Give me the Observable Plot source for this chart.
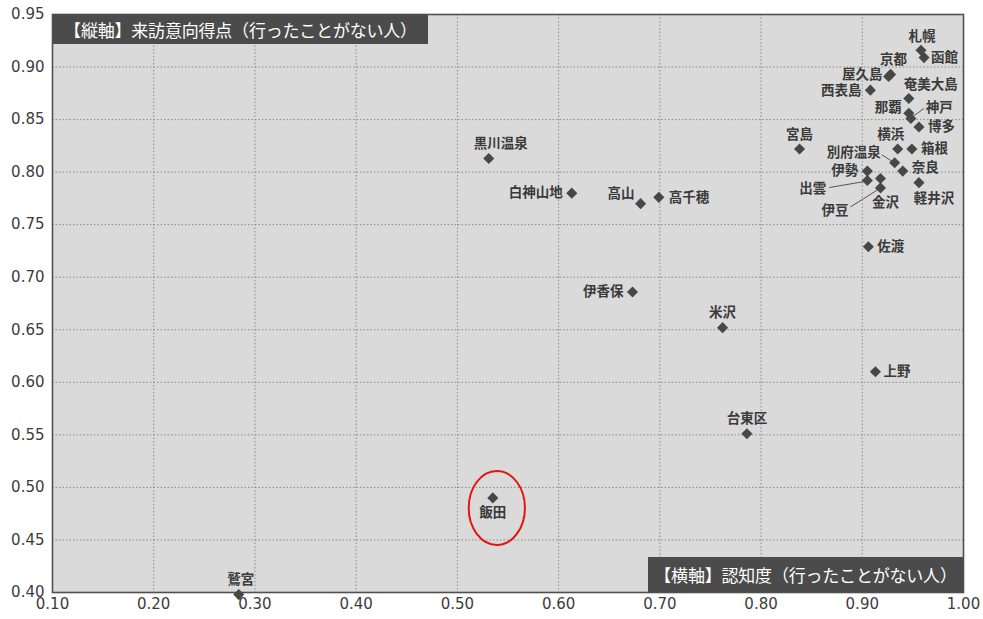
<!DOCTYPE html>
<html><head><meta charset="utf-8">
<script src="https://cdn.jsdelivr.net/npm/d3@7"></script>
<script src="https://cdn.jsdelivr.net/npm/@observablehq/plot@0.6"></script>
<style>
body{margin:0;background:#fff;}
#wrap{position:relative;width:983px;height:619px;overflow:hidden;}
.box{position:absolute;background:#4b4b4b;color:#fff;font-family:"Noto Sans CJK JP";font-size:17px;display:flex;align-items:center;justify-content:center;white-space:nowrap;letter-spacing:-0.2px;}
</style></head><body>
<div id="wrap"></div>
<script>
// ---- data ----
const places    = ["札幌","函館","京都","屋久島","西表島","奄美大島","那覇","神戸","博多","宮島","横浜","箱根","別府温泉","奈良","伊勢","出雲","金沢","伊豆","軽井沢","黒川温泉","白神山地","高山","高千穂","伊香保","米沢","上野","台東区","佐渡","飯田","鷲宮"];
const awareness = [0.958,0.961,0.928,0.926,0.908,0.946,0.946,0.948,0.956,0.838,0.935,0.949,0.932,0.940,0.905,0.905,0.918,0.918,0.956,0.531,0.613,0.681,0.699,0.673,0.762,0.913,0.786,0.906,0.535,0.284];
const intention = [0.916,0.909,0.893,0.891,0.878,0.870,0.856,0.851,0.843,0.822,0.822,0.822,0.809,0.801,0.801,0.792,0.794,0.785,0.790,0.813,0.780,0.770,0.776,0.686,0.652,0.610,0.551,0.729,0.490,0.398];
const xTicks = [0.10,0.20,0.30,0.40,0.50,0.60,0.70,0.80,0.90,1.00];
const yTicks = [0.40,0.45,0.50,0.55,0.60,0.65,0.70,0.75,0.80,0.85,0.90,0.95];
const yAxisTitle = "【縦軸】来訪意向得点（行ったことがない人）";
const xAxisTitle = "【横軸】認知度（行ったことがない人）";
const highlighted = "飯田";

// ---- layout (pixel offsets of labels: anchor, dx, dy) ----
const labelLayout = {
  "札幌":["middle",1,-14], "函館":["start",7,0], "京都":["middle",3,-15], "屋久島":["end",-6,-2],
  "西表島":["end",-9,1], "奄美大島":["start",-5,-14], "那覇":["end",-7,-6], "神戸":["start",15,-11],
  "博多":["start",9,0], "宮島":["middle",0,-14], "横浜":["middle",-7,-14], "箱根":["start",9,0],
  "別府温泉":["end",-14,-10], "奈良":["start",9,-3], "伊勢":["end",-9,0], "出雲":["end",-41,8],
  "金沢":["middle",5,24], "伊豆":["end",-32,23], "軽井沢":["middle",15,16], "黒川温泉":["middle",12,-15],
  "白神山地":["end",-9,0], "高山":["end",-6,-10], "高千穂":["start",10,0], "伊香保":["end",-9,0],
  "米沢":["middle",0,-15], "上野":["start",8,0], "台東区":["middle",0,-15], "佐渡":["start",9,0],
  "飯田":["middle",0,15], "鷲宮":["middle",2,-15]
};
const leaderLayout = { "神戸":[2,-2,13,-10], "別府温泉":[-2,-1,-13,-8], "出雲":[-3,1,-38,7], "伊豆":[-3,2,-30,19] };
const ringOffset = [4,10];

const W = 983, H = 619, ML = 52, MR = 20, MT = 14, MB = 27;
const kx = (W - ML - MR) / (1.0 - 0.1);
const ky = (H - MT - MB) / (0.95 - 0.40);

const rows = places.map((name,i)=>{
  const [anchor,dx,dy] = labelLayout[name];
  return {name, x:awareness[i], y:intention[i], anchor, lx:awareness[i]+dx/kx, ly:intention[i]-dy/ky};
});
const leaders = rows.filter(d=>leaderLayout[d.name]).map(d=>{
  const [a,b,c,e] = leaderLayout[d.name];
  return {x1:d.x+a/kx, y1:d.y-b/ky, x2:d.x+c/kx, y2:d.y-e/ky};
});
const ring = rows.filter(d=>d.name===highlighted).map(d=>({x:d.x+ringOffset[0]/kx, y:d.y-ringOffset[1]/ky}));

const ellipse = {draw(ctx,size){
  const r=Math.sqrt(size/Math.PI), rx=r*0.76, ry=r, k=0.5523;
  ctx.moveTo(rx,0);
  ctx.bezierCurveTo(rx,ry*k,rx*k,ry,0,ry);
  ctx.bezierCurveTo(-rx*k,ry,-rx,ry*k,-rx,0);
  ctx.bezierCurveTo(-rx,-ry*k,-rx*k,-ry,0,-ry);
  ctx.bezierCurveTo(rx*k,-ry,rx,-ry*k,rx,0);
  ctx.closePath();
}};

const labelStyle = {fontFamily:"Noto Sans CJK JP", fontSize:13.5, fontWeight:"bold", fill:"#3a3a3a"};

const chart = Plot.plot({
  width: W, height: H,
  marginLeft: ML, marginRight: MR, marginTop: MT, marginBottom: MB,
  style: {fontFamily:"DejaVu Sans", fontSize:"15px", color:"#3c3c3c", background:"transparent", overflow:"visible"},
  x: {domain:[0.1,1.0], ticks:xTicks, tickFormat:d3.format(".2f"), tickSize:0, tickPadding:6, label:null},
  y: {domain:[0.40,0.95], ticks:yTicks, tickFormat:d3.format(".2f"), tickSize:0, tickPadding:8, label:null},
  marks: [
    Plot.frame({fill:"#dadada", stroke:null}),
    Plot.gridX(xTicks, {stroke:"#8a8a8a", strokeOpacity:1, strokeDasharray:"1.5,2"}),
    Plot.gridY(yTicks, {stroke:"#8a8a8a", strokeOpacity:1, strokeDasharray:"1.5,2"}),
    Plot.frame({stroke:"#505050", strokeWidth:1.6}),
    Plot.link(leaders, {x1:"x1", y1:"y1", x2:"x2", y2:"y2", stroke:"#555", strokeWidth:1}),
    Plot.dot(rows, {x:"x", y:"y", symbol:"diamond2", r:5, fill:"#474747", stroke:null}),
    Plot.text(rows.filter(d=>d.anchor==="start"), {x:"lx", y:"ly", text:"name", textAnchor:"start", ...labelStyle}),
    Plot.text(rows.filter(d=>d.anchor==="middle"), {x:"lx", y:"ly", text:"name", textAnchor:"middle", ...labelStyle}),
    Plot.text(rows.filter(d=>d.anchor==="end"), {x:"lx", y:"ly", text:"name", textAnchor:"end", ...labelStyle}),
    Plot.dot(ring, {x:"x", y:"y", symbol:ellipse, r:37, fill:"none", stroke:"#e8120c", strokeWidth:2})
  ]
});
const wrap = document.getElementById("wrap");
wrap.appendChild(chart);

const tb = document.createElement("div");
tb.className = "box"; tb.textContent = yAxisTitle;
Object.assign(tb.style, {left:(ML+1)+"px", top:MT+"px", width:"375px", height:"30px"});
wrap.appendChild(tb);
const bb = document.createElement("div");
bb.className = "box"; bb.textContent = xAxisTitle;
Object.assign(bb.style, {left:"648px", top:(H-MB-35)+"px", width:(W-MR-648)+"px", height:"35px"});
wrap.appendChild(bb);
</script>
</body></html>
